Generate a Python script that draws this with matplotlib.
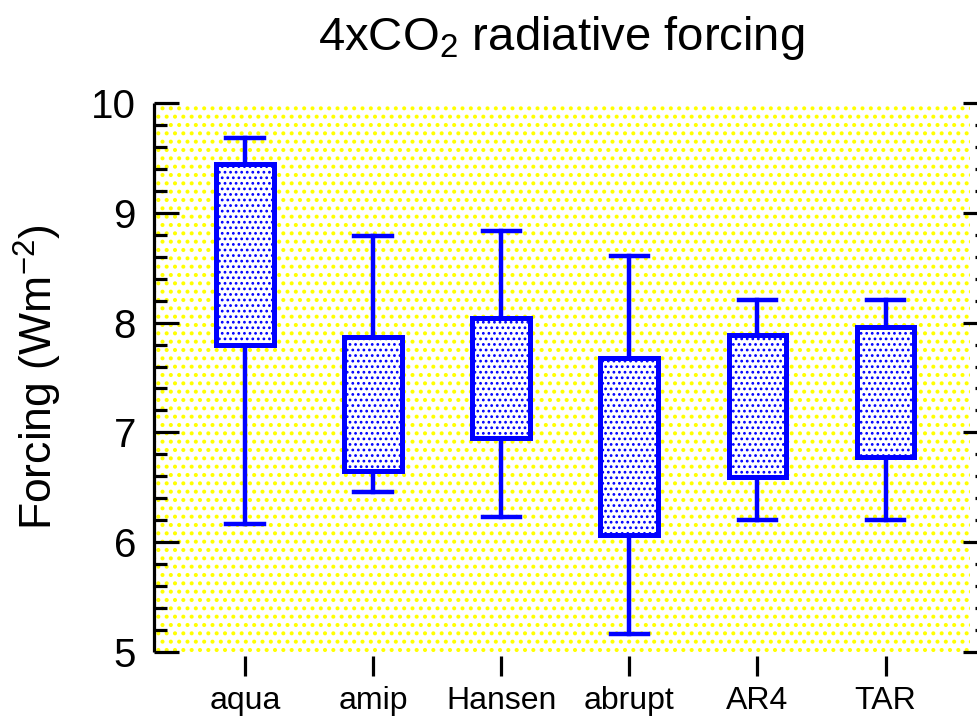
import matplotlib
matplotlib.use("Agg")
import matplotlib.pyplot as plt
from matplotlib.patches import Rectangle
from matplotlib.ticker import MultipleLocator

plt.rcParams['font.family'] = ['Liberation Sans', 'DejaVu Sans']
plt.rcParams['mathtext.fontset'] = 'custom'
plt.rcParams['mathtext.rm'] = 'Liberation Sans'
plt.rcParams['mathtext.it'] = 'Liberation Sans'
plt.rcParams['mathtext.default'] = 'regular'

categories = ["aqua", "amip", "Hansen", "abrupt", "AR4", "TAR"]
whisker_low = [6.17, 6.46, 6.23, 5.16, 6.20, 6.20]
q1 = [7.80, 6.65, 6.95, 6.07, 6.59, 6.78]
median = [8.75, 7.45, 7.34, 6.91, 7.08, 7.17]
q3 = [9.44, 7.87, 8.04, 7.68, 7.89, 7.96]
whisker_high = [9.68, 8.79, 8.83, 8.61, 8.21, 8.21]

blue = (0, 0, 1)
fig = plt.figure(figsize=(9.78, 7.22), dpi=100)
ax = fig.add_axes([154/978, 1-652/722, (988-154)/978, (652-103)/722])

ax.patch.set_visible(False)
plt.rcParams['hatch.linewidth'] = 1.7
bg = Rectangle((0, 0), 0.978, 1.0, transform=ax.transAxes, facecolor='white',
               edgecolor=(1, 1, 0), hatch='..', linewidth=0, zorder=0)
ax.add_patch(bg)

stats = []
for c, lo, a, m, b, hi in zip(categories, whisker_low, q1, median, q3, whisker_high):
    stats.append(dict(label=c, whislo=lo, q1=a, med=m, q3=b, whishi=hi, fliers=[]))

plt.rcParams['hatch.linewidth'] = 1.2
positions = list(range(1, len(categories) + 1))
bp = ax.bxp(stats, positions=positions, widths=0.45, capwidths=0.29,
            patch_artist=True, showfliers=False,
            boxprops=dict(facecolor='white', edgecolor=blue, linewidth=3.6, hatch='...'),
            whiskerprops=dict(color=blue, linewidth=3.2),
            capprops=dict(color=blue, linewidth=3.2),
            medianprops=dict(color=blue, linewidth=3.2))
for b in bp['boxes']:
    b.set_zorder(3)

ax.spines['bottom'].set_position(('outward', 3))
for s in ['top', 'right', 'bottom']:
    ax.spines[s].set_visible(False)
ax.spines['left'].set_linewidth(2.3)
ax.spines['left'].set_capstyle('butt')

ax.set_xlim(0.29, 6.80)
ax.set_ylim(5, 10)
ax.set_xticks(positions)
ax.set_xticklabels(categories)
ax.yaxis.set_major_locator(MultipleLocator(1))
ax.yaxis.set_minor_locator(MultipleLocator(0.2))

ax.tick_params(axis='y', which='both', direction='in', left=True, right=True,
               labelsize=29, pad=13, width=2.3, color='black')
ax.tick_params(axis='y', which='major', length=18)
ax.tick_params(axis='y', which='minor', length=9.5)
ax.tick_params(axis='x', which='major', direction='out', length=14.5, width=2.3,
               pad=7, bottom=True, top=False, labelsize=23)

ax.set_ylabel(r'Forcing (Wm$^{-2}$)', fontsize=32)
ax.yaxis.set_label_coords(-0.108, 0.5)

fig.text(561/978, 1-50/722, r'4xCO$_2$ radiative forcing', fontsize=34,
         ha='center', va='baseline')

fig.savefig('out.png', dpi=100)
